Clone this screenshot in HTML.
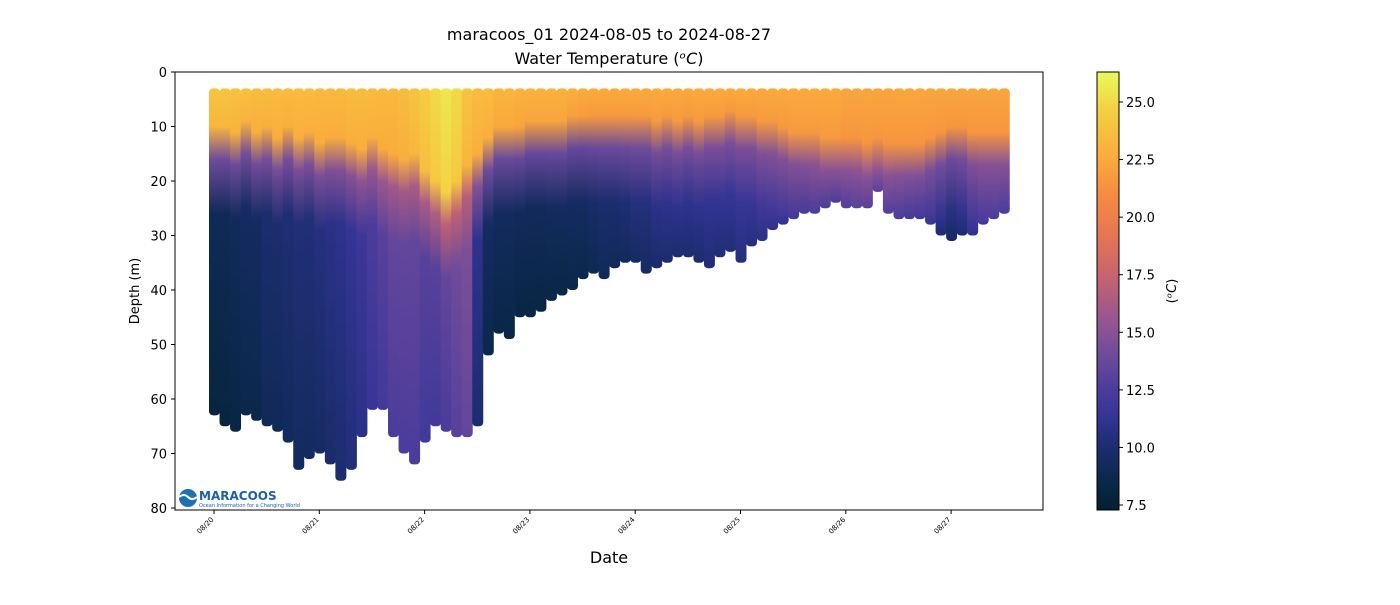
<!DOCTYPE html>
<html><head><meta charset="utf-8"><style>
body{margin:0;background:#fff;font-family:"Liberation Sans","DejaVu Sans",sans-serif}
svg text{font-family:"DejaVu Sans","Liberation Sans",sans-serif}
</style></head><body>
<svg id="chart" width="1400" height="600" viewBox="0 0 1400 600">
<defs id="defs"></defs>
<g id="profiles"></g>
<rect x="175" y="72" width="868" height="438" fill="none" stroke="#000" stroke-width="1"/>
<g id="xaxis"></g>
<g id="yaxis"></g>
<text x="609" y="40" font-size="16" text-anchor="middle">maracoos_01 2024-08-05 to 2024-08-27</text>
<text x="609" y="64" font-size="16" text-anchor="middle">Water Temperature (<tspan font-style="italic">ᵒC</tspan>)</text>
<text x="609" y="563" font-size="16" text-anchor="middle">Date</text>
<text x="139" y="291" font-size="13" text-anchor="middle" transform="rotate(-90 139 291)">Depth (m)</text>
<g>
<circle cx="188" cy="498" r="9" fill="#1f6fb5"/>
<path d="M179 497 q5 -4 9 0 t9 0" stroke="#fff" stroke-width="2" fill="none"/>
<text x="199" y="500" font-size="12" font-weight="bold" fill="#1a5fa8" font-family="Liberation Sans">MARACOOS</text>
<text x="199" y="507" font-size="5" fill="#1a5fa8" font-family="Liberation Sans">Ocean Information for a Changing World</text>
</g>
<rect x="1097" y="72" width="22" height="438" fill="url(#cbgrad)" stroke="#000" stroke-width="1"/>
<g id="cbaxis"></g>
<text x="1176" y="291" font-size="13" text-anchor="middle" transform="rotate(-90 1176 291)">(<tspan font-style="italic">ᵒC</tspan>)</text>
</svg>
<script>
const dateLabels=["08/20","08/21","08/22","08/23","08/24","08/25","08/26","08/27"];
const depthTicks=[0,10,20,30,40,50,60,70,80];
const cbTicks=[7.5,10.0,12.5,15.0,17.5,20.0,22.5,25.0];
// profile times, days since 08/20
const profDay=[0,0.1,0.2,0.3,0.4,0.5,0.6,0.7,0.8,0.9,1.0,1.1,1.2,1.3,1.4,1.5,1.6,1.7,1.8,1.9,2.0,2.1,2.2,2.3,2.4,2.5,2.6,2.7,2.8,2.9,3.0,3.1,3.2,3.3,3.4,3.5,3.6,3.7,3.8,3.9,4.0,4.1,4.2,4.3,4.4,4.5,4.6,4.7,4.8,4.9,5.0,5.1,5.2,5.3,5.4,5.5,5.6,5.7,5.8,5.9,6.0,6.1,6.2,6.3,6.4,6.5,6.6,6.7,6.8,6.9,7.0,7.1,7.2,7.3,7.4,7.5];
const maxDepth=[63,65,66,63,64,65,66,68,73,71,70,72,75,73,67,62,62,67,70,72,68,65,66,67,67,65,52,48,49,45,45,44,42,41,40,38,37,38,36,35,35,37,36,35,34,34,35,36,34,33,35,32,31,29,28,27,26,26,25,24,25,25,25,22,26,27,27,27,28,30,31,30,30,28,27,26];
const mixedDepth=[10,10,11,9,11,10,12,10,12,11,13,12,12,13,14,12,14,15,16,15,18,20,22,20,17,15,12,10,10,10,9,9,9,9,8,8,8,8,8,8,8,8,9,8,9,8,9,8,8,7,8,8,9,9,10,11,11,11,12,12,12,12,13,12,13,13,13,13,12,11,10,10,11,11,11,11];
const surfTemp=[24,24,23.8,23.8,23.6,23.6,23.5,23.5,23.5,23.5,23.4,23.4,23.4,23.5,23.5,23.5,23.4,23.4,23.5,24,24.5,25,25.5,25,24,23.5,23.5,23.2,23.2,23,23,23,23,23,22.8,22.6,22.5,22.5,22.5,22.5,22.5,22.5,22.5,22.5,22.5,22.5,22.5,22.5,22.5,22.5,22.5,22.5,22.5,22.5,22.5,22.5,22.5,22.5,22.5,22.5,22.3,22.3,22.3,22.3,22.3,22.3,22.3,22.3,22.3,22.3,22.3,22.3,22.3,22.3,22.3,22.3];
const botTemp=[8,8,8.2,8.5,8.5,9,9,9.2,9.3,9.3,9.5,9.8,10,10.3,10.8,11.5,12,12.5,12.5,12.5,12,12,12.5,13,13.5,10,8.5,8.3,8.3,8.2,8.2,8.2,8.3,8.3,8.5,8.5,8.8,9,9,9.2,9.5,9.5,9.8,10,10,10,10,10.2,10.2,10.3,10.5,10.5,10.8,11,11,11,11.2,11.5,11.5,11.5,11.8,12,12,12,11.8,11.5,11.2,11,10.5,10,9.5,10,11,11.5,11.5,11.5];

const NS='http://www.w3.org/2000/svg';
const X0=214,DX=105.3,Y0=72,DY=5.45;
const xs=d=>X0+d*DX, ys=m=>Y0+m*DY;
const CB0=505,CBK=(505-102)/17.5;
const cbY=t=>CB0-(t-7.5)*CBK;
const cmapStops=[[7.3,[4,32,46]],[8.5,[10,40,75]],[10,[27,45,110]],[11.3,[52,52,150]],[12.5,[75,60,155]],[14,[110,75,155]],[15.5,[150,85,145]],[17.5,[200,100,110]],[19.5,[235,120,80]],[21,[245,140,65]],[22.5,[250,170,60]],[24.5,[245,205,65]],[26.3,[232,250,90]]];
function cmap(t){
  if(t<=cmapStops[0][0])return rgb(cmapStops[0][1]);
  for(let i=1;i<cmapStops.length;i++){
    if(t<=cmapStops[i][0]){const a=cmapStops[i-1],b=cmapStops[i];const f=(t-a[0])/(b[0]-a[0]);
      return rgb(a[1].map((v,k)=>v+(b[1][k]-v)*f));}
  }
  return rgb(cmapStops[cmapStops.length-1][1]);
}
function rgb(a){return 'rgb('+a.map(v=>Math.round(v)).join(',')+')';}
function el(tag,attrs,parent){const e=document.createElementNS(NS,tag);for(const k in attrs)e.setAttribute(k,attrs[k]);parent.appendChild(e);return e;}
const defs=document.getElementById('defs');
const cg=el('linearGradient',{id:'cbgrad',x1:0,y1:1,x2:0,y2:0},defs);
for(let i=0;i<=40;i++){const t=7.28+(26.3-7.28)*i/40;el('stop',{offset:i/40,'stop-color':cmap(t)},cg);}
const pg=document.getElementById('profiles');
const topDepth=3;
profDay.forEach((d,i)=>{
  const md=maxDepth[i],ml=mixedDepth[i],st=surfTemp[i],bt=botTemp[i];
  const g=el('linearGradient',{id:'pg'+i,x1:0,y1:0,x2:0,y2:1},defs);
  const span=md-topDepth;
  const mid=(st+bt)/2;
  const pts=[[topDepth,st],[Math.min(ml,md-1),st-0.8],[Math.min(ml+6,md),mid-2],[Math.min(ml+16,md),bt+1],[md,bt]];
  pts.forEach(p=>el('stop',{offset:Math.max(0,Math.min(1,(p[0]-topDepth)/span)),'stop-color':cmap(p[1])},g));
  const r=el('rect',{x:xs(d)-5,y:ys(topDepth),width:11,height:ys(md)-ys(topDepth),rx:4,fill:'url(#pg'+i+')'},pg);
  
  
});
const xa=document.getElementById('xaxis');
dateLabels.forEach((l,i)=>{
  const x=xs(i);
  el('line',{x1:x,y1:510,x2:x,y2:514,stroke:'#000'},xa);
  const t=el('text',{x:x,y:520,'font-size':7,'text-anchor':'end',transform:`rotate(-45 ${x} 520)`},xa);
  t.textContent=l;
  
  
});
const ya=document.getElementById('yaxis');
depthTicks.forEach(v=>{
  const y=ys(v);
  el('line',{x1:171,y1:y,x2:175,y2:y,stroke:'#000'},ya);
  const t=el('text',{x:167,y:y+5,'font-size':13,'text-anchor':'end'},ya);
  t.textContent=v;
  
  
});
const ca=document.getElementById('cbaxis');
cbTicks.forEach(v=>{
  const y=cbY(v);
  el('line',{x1:1119,y1:y,x2:1123,y2:y,stroke:'#000'},ca);
  const t=el('text',{x:1126,y:y+5,'font-size':13},ca);
  t.textContent=v.toFixed(1);
  
  
});
</script>
</body></html>
